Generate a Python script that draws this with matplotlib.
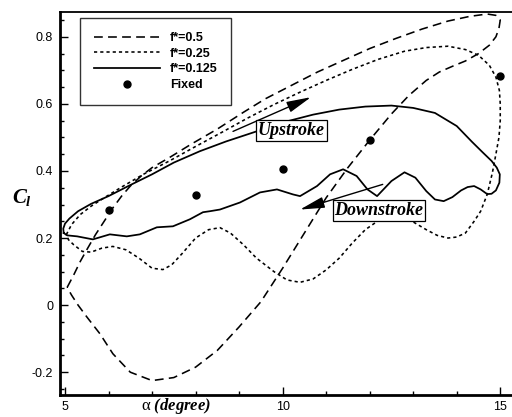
import matplotlib
matplotlib.use("Agg")
import matplotlib.pyplot as plt
from matplotlib.ticker import MultipleLocator, FixedLocator, FixedFormatter

plt.rcParams['mathtext.fontset'] = 'custom'
plt.rcParams['mathtext.it'] = 'Liberation Serif:italic:bold'
plt.rcParams['mathtext.rm'] = 'Liberation Serif'
plt.rcParams['mathtext.bf'] = 'Liberation Serif:bold'

# ---- data ----
# f* = 0.5 (dashed)
alpha_05 = [5.05, 5.2, 5.35, 5.5, 5.7, 5.9, 6.1, 6.3, 6.5, 6.75, 7.0, 7.4, 7.9, 8.5, 9.1, 9.6,
            10.2, 10.8, 11.4, 12.0, 12.6, 13.2, 13.8, 14.3, 14.7, 14.9, 15.0, 14.97, 14.9, 14.75,
            14.5, 14.2, 13.9, 13.6, 13.3, 12.9, 12.5, 12.0, 11.5, 11.0, 10.5, 10.0, 9.5, 9.0,
            8.5, 8.0, 7.5, 7.0, 6.5, 6.1, 5.8, 5.5, 5.3, 5.15, 5.05]
cl_05 = [0.053, 0.09, 0.13, 0.165, 0.21, 0.25, 0.29, 0.325, 0.355, 0.385, 0.41, 0.44, 0.48, 0.525,
         0.575, 0.615, 0.655, 0.695, 0.73, 0.765, 0.795, 0.823, 0.847, 0.861, 0.868, 0.864, 0.85,
         0.825, 0.8, 0.775, 0.75, 0.728, 0.712, 0.695, 0.67, 0.625, 0.57, 0.492, 0.41, 0.32,
         0.215, 0.11, 0.01, -0.065, -0.135, -0.185, -0.216, -0.225, -0.2, -0.145, -0.085,
         -0.035, 0.0, 0.03, 0.053]

# f* = 0.25 (dotted)
alpha_025 = [5.03, 5.15, 5.35, 5.6, 5.9, 6.3, 6.8, 7.4, 8.0, 8.6, 9.2, 9.8, 10.4, 11.0, 11.6,
             12.2, 12.8, 13.3, 13.8, 14.2, 14.5, 14.75, 14.9, 14.98, 15.0, 15.0, 14.97, 14.9,
             14.82, 14.7, 14.55, 14.4, 14.2, 14.0, 13.8, 13.55, 13.3, 13.0, 12.7, 12.5, 12.2,
             11.9, 11.6, 11.3, 11.0, 10.7, 10.4, 10.1, 9.8, 9.4, 9.1, 8.8, 8.56, 8.3, 8.0, 7.7,
             7.45, 7.25, 7.0, 6.7, 6.4, 6.1, 5.85, 5.6, 5.4, 5.2, 5.08, 5.03]
cl_025 = [0.21, 0.24, 0.27, 0.295, 0.32, 0.352, 0.39, 0.43, 0.473, 0.515, 0.558, 0.598, 0.635,
          0.67, 0.703, 0.733, 0.757, 0.768, 0.772, 0.762, 0.745, 0.715, 0.68, 0.64, 0.6, 0.55,
          0.5, 0.45, 0.395, 0.33, 0.28, 0.25, 0.215, 0.203, 0.2, 0.208, 0.225, 0.248, 0.26,
          0.262, 0.252, 0.225, 0.185, 0.14, 0.105, 0.078, 0.068, 0.075, 0.1, 0.14, 0.18, 0.215,
          0.231, 0.225, 0.2, 0.155, 0.12, 0.106, 0.11, 0.14, 0.165, 0.175, 0.17, 0.158, 0.16,
          0.18, 0.195, 0.21]

# f* = 0.125 (solid)
alpha_0125 = [4.97, 4.96, 5.0, 5.1, 5.3, 5.6, 6.0, 6.5, 7.0, 7.5, 8.1, 8.7, 9.4, 10.1, 10.7,
              11.3, 11.9, 12.5, 13.0, 13.5, 14.0, 14.35, 14.6, 14.8, 14.92, 14.99, 14.98, 14.9,
              14.8, 14.7, 14.55, 14.4, 14.25, 14.1, 13.9, 13.7, 13.5, 13.3, 13.05, 12.8, 12.5,
              12.17, 11.95, 11.7, 11.39, 11.09, 10.79, 10.4, 10.24, 9.87, 9.48, 9.02, 8.56,
              8.33, 8.17, 7.87, 7.48, 7.11, 6.72, 6.42, 6.03, 5.64, 5.28, 5.05, 4.97]
cl_0125 = [0.215, 0.228, 0.243, 0.258, 0.28, 0.302, 0.325, 0.358, 0.39, 0.425, 0.459, 0.488,
           0.518, 0.548, 0.568, 0.583, 0.592, 0.595, 0.588, 0.573, 0.534, 0.487, 0.455, 0.43,
           0.41, 0.39, 0.365, 0.342, 0.332, 0.331, 0.345, 0.355, 0.352, 0.342, 0.322, 0.31,
           0.315, 0.34, 0.38, 0.396, 0.37, 0.325, 0.345, 0.385, 0.405, 0.39, 0.355, 0.325,
           0.33, 0.345, 0.336, 0.306, 0.285, 0.28, 0.277, 0.256, 0.235, 0.232, 0.211, 0.205,
           0.211, 0.196, 0.205, 0.208, 0.215]

# fixed (static) airfoil
alpha_fixed = [6, 8, 10, 12, 15]
cl_fixed = [0.283, 0.327, 0.407, 0.492, 0.684]

series_labels = ['f*=0.5', 'f*=0.25', 'f*=0.125', 'Fixed']

# annotations: (tail, head) of arrows and label positions
up_arrow = ((8.86, 0.518), (10.65, 0.62))
down_arrow = ((12.3, 0.36), (10.4, 0.285))
up_label = ('Upstroke', 10.2, 0.521)
down_label = ('Downstroke', 12.21, 0.282)

xticks = [5, 10, 15]
yticks = [-0.2, 0.0, 0.2, 0.4, 0.6, 0.8]
yticklabels = ['-0.2', '0', '0.2', '0.4', '0.6', '0.8']

# ---- figure ----
W, H = 512, 417
fig = plt.figure(figsize=(W / 100, H / 100), dpi=100)
ax = fig.add_axes([60 / W, (H - 395) / H, (W - 60) / W, (395 - 12) / H])

lw = 1.15
ax.plot(alpha_05, cl_05, color='k', lw=lw, linestyle=(0, (5.5, 3.3)), label=series_labels[0])
ax.plot(alpha_025, cl_025, color='k', lw=lw, linestyle=(0, (2.0, 1.9)), label=series_labels[1])
ax.plot(alpha_0125, cl_0125, color='k', lw=lw * 1.1, linestyle='-', label=series_labels[2])
ax.plot(alpha_fixed, cl_fixed, 'o', color='k', ms=5, label=series_labels[3], zorder=5)

ax.set_xlim(4.885, 15.27)
ax.set_ylim(-0.268, 0.874)

ax.xaxis.set_major_locator(FixedLocator(xticks))
ax.xaxis.set_minor_locator(MultipleLocator(1))
ax.yaxis.set_major_locator(FixedLocator(yticks))
ax.yaxis.set_major_formatter(FixedFormatter(yticklabels))
ax.yaxis.set_minor_locator(MultipleLocator(0.05))
ax.tick_params(which='both', direction='in', top=False, right=False, width=1.0,
               labelsize=9, colors='k')
ax.tick_params(which='major', length=5.5)
ax.tick_params(which='minor', length=3)
ax.tick_params(axis='x', pad=4)
ax.tick_params(axis='y', pad=5)
for lab in ax.get_xticklabels() + ax.get_yticklabels():
    lab.set_family('Liberation Sans')

ax.spines['right'].set_visible(False)
ax.spines['left'].set_linewidth(2.0)
ax.spines['bottom'].set_linewidth(2.0)
ax.spines['top'].set_linewidth(1.3)

ax.set_ylabel(r'$C_l$', rotation=0, fontsize=15, ha='center', va='center')
ax.yaxis.set_label_coords(-0.085, 0.515)
ax.set_xlabel(r'$\mathrm{\alpha}$ (degree)', fontsize=12, family='Liberation Serif',
              fontweight='bold', fontstyle='italic', ha='center', va='center')
ax.xaxis.set_label_coords(0.257, -0.030)

leg = ax.legend(loc='upper left', bbox_to_anchor=(0.044, 0.984), borderaxespad=0,
                frameon=True, fancybox=False, handlelength=5.3, handletextpad=0.8,
                labelspacing=0.3, borderpad=1.1,
                prop={'family': 'Liberation Sans', 'weight': 'bold', 'size': 9})
leg.get_frame().set_edgecolor('k')
leg.get_frame().set_linewidth(1.0)

arrowprops = dict(arrowstyle='-|>,head_length=0.75,head_width=0.17', mutation_scale=20,
                  lw=1.0, color='k', shrinkA=0, shrinkB=0)
ax.annotate('', xy=up_arrow[1], xytext=up_arrow[0], arrowprops=arrowprops, zorder=6)
ax.annotate('', xy=down_arrow[1], xytext=down_arrow[0], arrowprops=arrowprops, zorder=6)

box = dict(boxstyle='square,pad=0.1', fc='white', ec='k', lw=0.9)
for txt, x, y in (up_label, down_label):
    ax.text(x, y, txt, fontsize=13, family='Liberation Serif', fontweight='bold',
            fontstyle='italic', ha='center', va='center', bbox=box, zorder=7)

fig.savefig('out.png', dpi=100)
